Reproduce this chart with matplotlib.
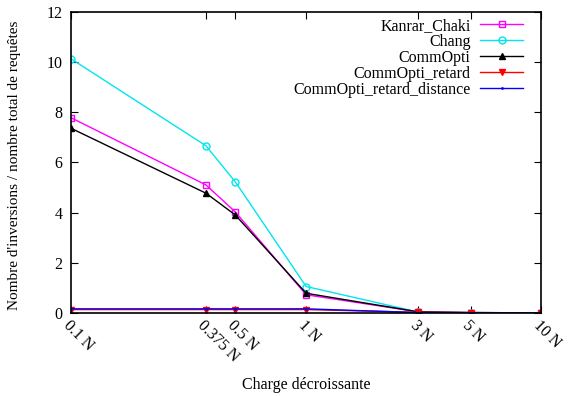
import matplotlib
matplotlib.use("Agg")
import matplotlib.pyplot as plt

plt.rcParams['font.family'] = ['Liberation Serif', 'DejaVu Serif']

charges = [0.1, 0.375, 0.5, 1, 3, 5, 10]
tick_labels = ["0.1 N", "0.375 N", "0.5 N", "1 N", "3 N", "5 N", "10 N"]

kanrar_chaki = [7.78, 5.10, 4.02, 0.72, 0.04, 0.01, 0.0]
chang = [10.13, 6.66, 5.22, 1.05, 0.03, 0.01, 0.0]
commopti = [7.36, 4.77, 3.90, 0.78, 0.04, 0.01, 0.0]
commopti_retard = [0.13, 0.13, 0.13, 0.13, 0.02, 0.01, 0.0]
commopti_retard_distance = [0.16, 0.16, 0.16, 0.16, 0.01, 0.0, 0.0]

fig = plt.figure(figsize=(5.68, 3.96), dpi=100)
ax = fig.add_axes([0.125, 0.21, 0.828, 0.76])

ax.plot(charges, kanrar_chaki, color='#ff00ff', marker='s', mfc='none', ms=5, lw=1, label='Kanrar_Chaki')
ax.plot(charges, chang, color='#00e5ee', marker='o', mfc='none', ms=5, lw=1, label='Chang')
ax.plot(charges, commopti, color='black', marker='^', ms=5, lw=1, label='CommOpti')
ax.plot(charges, commopti_retard, color='#ff0000', marker='v', ms=5, lw=1, label='CommOpti_retard')
ax.plot(charges, commopti_retard_distance, color='#0000ff', marker='.', ms=2, lw=1, label='CommOpti_retard_distance')

ax.set_xscale('log')
ax.set_xlim(0.1, 10)
ax.set_ylim(0, 12)
ax.set_xticks(charges)
ax.set_xticklabels(tick_labels, rotation=-45, ha='left', va='top', rotation_mode='anchor')
ax.minorticks_off()
ax.set_yticks([0, 2, 4, 6, 8, 10, 12])
ax.tick_params(direction='in', top=True, right=True, labelsize=11.5, length=5, width=0.8)
ax.tick_params(axis='y', pad=6)
for s in ax.spines.values():
    s.set_linewidth(1.2)

ax.set_xlabel('Charge décroissante', fontsize=11.5)
ax.xaxis.set_label_coords(0.5, -0.213)
ax.set_ylabel("Nombre d'inversions / nombre total de requêtes", fontsize=11)
ax.yaxis.set_label_coords(-0.106, 0.49)

ax.legend(loc='upper right', bbox_to_anchor=(0.962, 0.98), frameon=False, markerfirst=False,
          fontsize=11.5, handlelength=2.7, labelspacing=0.0, borderaxespad=0, borderpad=0,
          handletextpad=0.6)

fig.savefig('out.png', dpi=100)
